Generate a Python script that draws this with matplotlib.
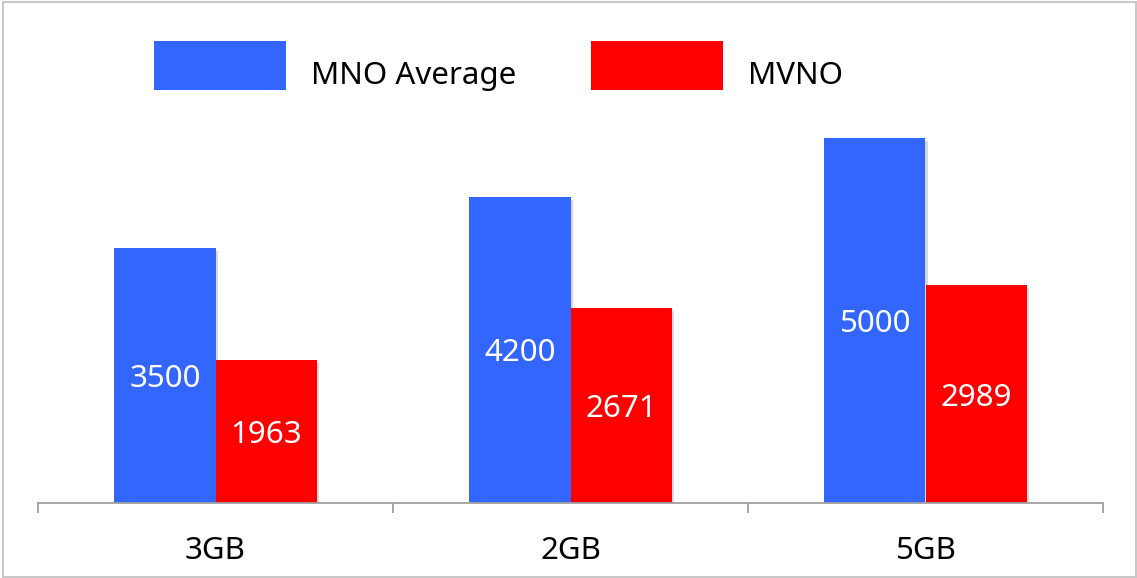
import matplotlib
matplotlib.use("Agg")
import matplotlib.pyplot as plt
import matplotlib.patheffects as pe
from matplotlib.patches import Rectangle, Patch
from matplotlib.legend_handler import HandlerPatch
import numpy as np

categories = ["3GB", "2GB", "5GB"]
mno_average = [3500, 4200, 5000]
mvno = [1963, 2671, 2989]
series_names = ["MNO Average", "MVNO"]

BLUE = "#3366FF"
RED = "#FF0000"
FS = 22.5
FS_PX = FS * 100 / 72

plt.rcParams["font.family"] = ["Noto Sans", "DejaVu Sans"]

W, H = 1137, 578
fig = plt.figure(figsize=(W / 100, H / 100), dpi=100)
ax = fig.add_axes([38 / W, 1 - 503 / H, (1103 - 38) / W, (503 - 29) / H])

x = np.arange(len(categories))
bw = 0.285
shadow = [pe.SimplePatchShadow(offset=(2, -2), shadow_rgbFace="#000000", alpha=0.15), pe.Normal()]
b1 = ax.bar(x - bw / 2, mno_average, width=bw, color=BLUE,
            path_effects=shadow, zorder=2)
b2 = ax.bar(x + bw / 2, mvno, width=bw, color=RED,
            path_effects=shadow, zorder=2)
value_labels = (
    ax.bar_label(b1, labels=[str(v) for v in mno_average], label_type="center",
                 color="white", fontsize=FS)
    + ax.bar_label(b2, labels=[str(v) for v in mvno], label_type="center",
                   color="white", fontsize=FS)
)
for t in value_labels:
    t.set_verticalalignment("center_baseline")

ax.set_xlim(-0.5, len(categories) - 0.5)
ax.set_ylim(0, 6500)
ax.set_yticks([])
for s in ["top", "left", "right"]:
    ax.spines[s].set_visible(False)
ax.spines["bottom"].set_color("#A0A0A0")
ax.spines["bottom"].set_linewidth(1.3)

ax.set_xticks(x)
ax.set_xticklabels(categories, fontsize=FS)
ax.tick_params(axis="x", which="major", length=0, pad=23.5)
ax.set_xticks(np.arange(len(categories) + 1) - 0.5, minor=True)
ax.tick_params(axis="x", which="minor", length=7, width=1.3, color="#A0A0A0", direction="out")
ax.patch.set_visible(False)

# legend swatch raised a little above the label's centre line
SWATCH_H = 49 * 72 / 100
RAISE = 8 * 72 / 100


def raised_swatch(legend, orig_handle, xdescent, ydescent, width, height, fontsize):
    return Rectangle((-xdescent, -ydescent + height / 2 - SWATCH_H / 2 + RAISE),
                     width, SWATCH_H)


handles = [Patch(facecolor=BLUE, edgecolor="none"), Patch(facecolor=RED, edgecolor="none")]
fig.legend(handles=handles, labels=series_names, loc="upper left",
           bbox_to_anchor=(154 / W, 1 - 57 / H), ncol=2, frameon=False,
           fontsize=FS, handlelength=132 / FS_PX, handleheight=1.2,
           handletextpad=0.8, columnspacing=2.4, borderpad=0, borderaxespad=0,
           handler_map={Patch: HandlerPatch(patch_func=raised_swatch)})

fig.patches.append(Rectangle((3 / W, 0.002), (1136 - 3) / W, 1 - 2 / H - 0.002,
                             transform=fig.transFigure, fill=False,
                             edgecolor="#C8C8C8", linewidth=1.5))

fig.savefig("out.png", dpi=100)
